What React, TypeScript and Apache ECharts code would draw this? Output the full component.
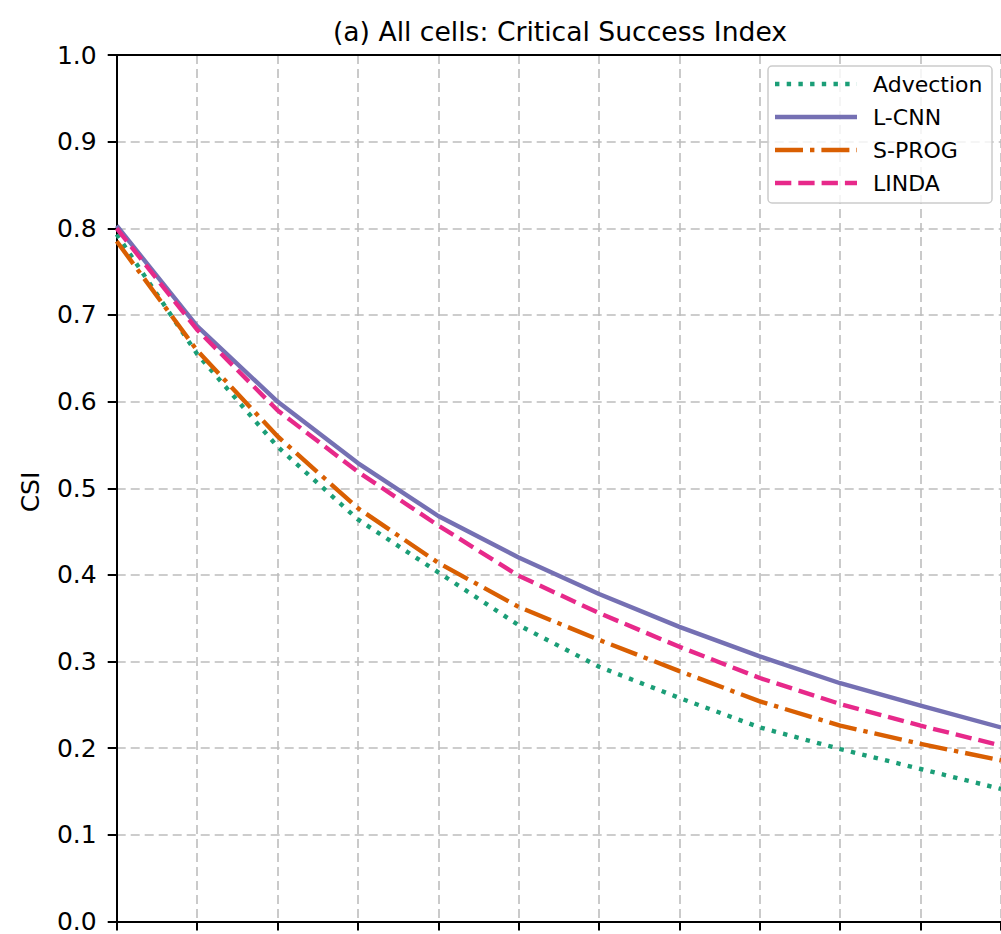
import React, { useEffect, useRef } from "react";
import * as echarts from "echarts";

const leadTimes = [5, 10, 15, 20, 25, 30, 35, 40, 45, 50, 55, 60];
const advection = [0.793, 0.655, 0.548, 0.464, 0.403, 0.342, 0.294, 0.258, 0.224, 0.199, 0.176, 0.153];
const lcnn = [0.803, 0.687, 0.600, 0.529, 0.468, 0.420, 0.378, 0.340, 0.306, 0.275, 0.249, 0.224];
const sprog = [0.785, 0.659, 0.560, 0.477, 0.414, 0.363, 0.325, 0.289, 0.254, 0.226, 0.205, 0.186];
const linda = [0.800, 0.683, 0.590, 0.519, 0.457, 0.399, 0.356, 0.317, 0.281, 0.251, 0.226, 0.203];
const yTicks = [0.0, 0.1, 0.2, 0.3, 0.4, 0.5, 0.6, 0.7, 0.8, 0.9, 1.0];
const seriesNames = ["Advection", "L-CNN", "S-PROG", "LINDA"];
const seriesColors = ["#1b9e77", "#7570b3", "#d95f02", "#e7298a"];

const FONT = "DejaVu Sans";
const LW = 4.4;
const dashes: any[] = [[4.4, 7.3], null, [28, 7, 4.4, 7], [16.3, 7]];

export default function App() {
  const ref = useRef<HTMLDivElement>(null);
  useEffect(() => {
    if (!ref.current) return;
    const chart = echarts.init(ref.current, null, { renderer: "svg" });
    const values = [advection, lcnn, sprog, linda];
    const series = seriesNames.map((name, k) => ({
      name,
      type: "line",
      data: leadTimes.map((t, i) => [t, values[k][i]]),
      symbol: "none",
      showSymbol: false,
      lineStyle: {
        color: seriesColors[k],
        width: LW,
        type: dashes[k] ? dashes[k] : "solid",
        cap: "butt",
      },
      itemStyle: { color: seriesColors[k] },
      emphasis: { disabled: true },
      z: 3 + k,
    }));

    const legendTop = 66;
    const legendItems: any[] = [
      {
        type: "rect",
        shape: { x: 768, y: legendTop, width: 224, height: 137, r: 4 },
        style: { fill: "rgba(255,255,255,0.8)", stroke: "#cccccc", lineWidth: 1.5 },
        z: 100,
      },
    ];
    seriesNames.forEach((name, k) => {
      const y = 84 + 33 * k;
      legendItems.push({
        type: "line",
        shape: { x1: 775, y1: y, x2: 857, y2: y },
        style: {
          stroke: seriesColors[k],
          lineWidth: LW,
          lineDash: dashes[k] || undefined,
          lineCap: "butt",
        },
        z: 101,
      });
      legendItems.push({
        type: "text",
        x: 873,
        y,
        style: {
          text: name,
          font: `22px '${FONT}'`,
          fill: "#000",
          textAlign: "left",
          textVerticalAlign: "middle",
        },
        z: 101,
      });
    });

    chart.setOption({
      animation: false,
      backgroundColor: "#ffffff",
      graphic: [
        {
          type: "text",
          x: 560,
          y: 31,
          style: {
            text: "(a) All cells: Critical Success Index",
            font: `26.6px '${FONT}'`,
            fill: "#000",
            textAlign: "center",
            textVerticalAlign: "middle",
          },
        },
        {
          type: "text",
          x: 30,
          y: 492,
          rotation: Math.PI / 2,
          style: {
            text: "CSI",
            font: `25px '${FONT}'`,
            fill: "#000",
            textAlign: "center",
            textVerticalAlign: "middle",
          },
        },
        ...legendItems,
      ],
      grid: {
        left: 116.7,
        top: 55,
        width: 885.5,
        height: 874,
        show: false,
      },
      xAxis: [
        {
          type: "value",
          min: 5,
          max: 60,
          interval: 5,
          position: "bottom",
          axisLine: { show: true, onZero: false, lineStyle: { color: "#000", width: 2 } },
          axisTick: { show: true, length: 9, lineStyle: { color: "#000", width: 2 } },
          axisLabel: { show: false },
          splitLine: { show: true, lineStyle: { color: "#bdbdbd", width: 1.6, type: [9, 5] } },
          z: 2,
        },
        {
          type: "value",
          min: 5,
          max: 60,
          interval: 5,
          position: "top",
          axisLine: { show: true, onZero: false, lineStyle: { color: "#000", width: 2 } },
          axisTick: { show: false },
          axisLabel: { show: false },
          splitLine: { show: false },
          z: 10,
        },
      ],
      yAxis: {
        type: "value",
        min: 0,
        max: 1,
        interval: 0.1,
        axisLine: { show: true, onZero: false, lineStyle: { color: "#000", width: 2 } },
        axisTick: { show: true, length: 9, lineStyle: { color: "#000", width: 2 } },
        axisLabel: {
          margin: 20,
          fontFamily: FONT,
          fontSize: 25,
          color: "#000",
          formatter: (v: number) => {
            const t = yTicks.find((y) => Math.abs(y - v) < 1e-6);
            return (t !== undefined ? t : v).toFixed(1);
          },
        },
        splitLine: { show: true, lineStyle: { color: "#bdbdbd", width: 1.6, type: [9, 5] } },
        z: 2,
      },
      series,
    });
    return () => chart.dispose();
  }, []);
  return (
    <div
      ref={ref}
      style={{ position: "absolute", left: 0, top: 0, width: 1001, height: 934 }}
    />
  );
}
